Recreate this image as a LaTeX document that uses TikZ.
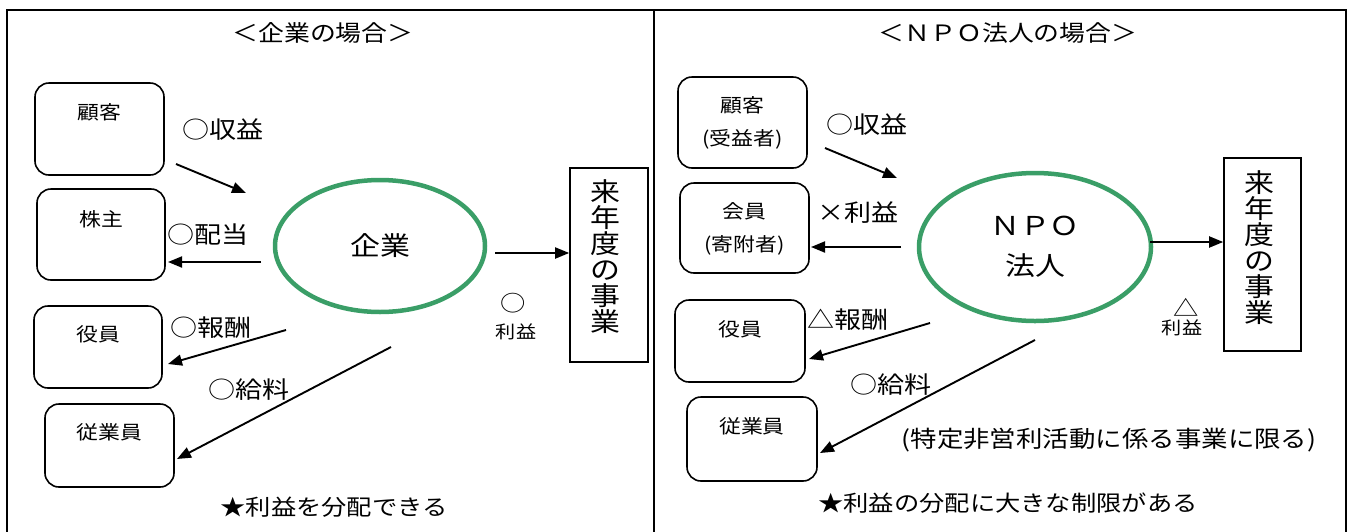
\documentclass[tikz,border=0pt]{standalone}
\usepackage{fontspec}
\newfontfamily\jp[FakeStretch=1.15]{Noto Sans CJK JP}
\usetikzlibrary{positioning,arrows.meta,shapes.geometric}
\definecolor{ovalgreen}{RGB}{58,158,103}

\begin{document}
\begin{tikzpicture}[x=1pt,y=-1pt,
	party/.style={draw, line width=1.6pt, rounded corners=14pt, inner sep=0pt},
	oval/.style={ellipse, draw=ovalgreen, line width=4.5pt, inner sep=0pt, font=\jp\fontsize{26}{40}\selectfont, align=center},
	nextyear/.style={draw, line width=1.6pt, inner sep=0pt},
	flow/.style={line width=1.9pt, -{Triangle[length=14pt,width=11pt]}},
	boxtext/.style={font=\jp\fontsize{19}{33}\selectfont, align=center, inner sep=0pt},
	vtext/.style={font=\jp\fontsize{26}{26}\selectfont, align=center, inner sep=0pt},
	tag/.style={font=\jp\fontsize{23.5}{28}\selectfont, inner sep=0pt},
	small/.style={font=\jp\fontsize{17.5}{20}\selectfont, inner sep=0pt},
	heading/.style={font=\jp\fontsize{22.5}{28}\selectfont, inner sep=0pt},
	note/.style={font=\jp\fontsize{22}{26}\selectfont, inner sep=0pt}]
	\useasboundingbox (0,0) rectangle (1350,531);
	\clip (0,0) rectangle (1350,531);
	
	% 外枠
	\draw[line width=1.6pt] (7,10) rectangle (1346,545);
	\draw[line width=1.6pt] (654,10) -- (654,545);
	
	% 左：企業の場合
	\node[heading] (titleL) at (323,33) {＜企業の場合＞};
	\node[party, minimum width=129pt, minimum height=92pt] (kokyakuL) at (99.5,129) {};
	\node[boxtext] at ([yshift=-30pt]kokyakuL.north) {顧客};
	\node[party, minimum width=128pt, minimum height=91pt] (kabunushi) at (101,234.5) {};
	\node[boxtext] at ([yshift=-31pt]kabunushi.north) {株主};
	\node[party, minimum width=128pt, minimum height=82pt] (yakuinL) at (98,347) {};
	\node[boxtext] at ([yshift=-29pt]yakuinL.north) {役員};
	\node[party, minimum width=129pt, minimum height=83pt] (jugyoinL) at (109.5,445.5) {};
	\node[boxtext] at ([yshift=-29pt]jugyoinL.north) {従業員};
	
	\node[oval, minimum width=210pt, minimum height=132pt] (kigyo) at (380,246) {企業};
	\node[nextyear, minimum width=78pt, minimum height=194pt] (raiL) at (609,265) {};
	\node[vtext] at ([xshift=-4pt,yshift=8pt]raiL.center) {来\\年\\度\\の\\事\\業};
	
	% 矢印の端点
	\coordinate (inL1) at (176,164);   \coordinate (inL2) at (246,193);
	\coordinate (divL1) at (261,262);  \coordinate (divL2) at (168,262);
	\coordinate (payL1) at (286,330);  \coordinate (payL2) at (168,364);
	\coordinate (wageL1) at (391,347); \coordinate (wageL2) at (177,459);
	\draw[flow] (inL1) -- (inL2);
	\draw[flow] (divL1) -- (divL2);
	\draw[flow] (payL1) -- (payL2);
	\draw[flow] (wageL1) -- (wageL2);
	\draw[flow] ([xshift=8pt,yshift=-7pt]kigyo.east) -- ([yshift=-7pt]kigyo.east -| raiL.west);
	
	\node[tag] at (223,130) {○収益};
	\node[tag] at (208,235) {○配当};
	\node[tag] at (211,328) {○報酬};
	\node[tag] at (249,390) {○給料};
	\node[small, font=\jp\fontsize{22}{22}\selectfont] at (513,303) {○};
	\node[small] at (516,332) {利益};
	\node[note] at (334,507) {★利益を分配できる};
	
	% 右：ＮＰＯ法人の場合
	\node[heading] (titleR) at (1008,33) {＜ＮＰＯ法人の場合＞};
	\node[party, minimum width=129pt, minimum height=91pt] (kokyakuR) at (742.5,122.5) {};
	\node[boxtext] at ([yshift=-47pt]kokyakuR.north) {顧客\\(受益者)};
	\node[party, minimum width=129pt, minimum height=90pt] (kaiin) at (744.5,228) {};
	\node[boxtext] at ([yshift=-47pt]kaiin.north) {会員\\(寄附者)};
	\node[party, minimum width=130pt, minimum height=82pt] (yakuinR) at (740,341) {};
	\node[boxtext] at ([yshift=-30pt]yakuinR.north) {役員};
	\node[party, minimum width=130pt, minimum height=84pt] (jugyoinR) at (752,439) {};
	\node[boxtext] at ([yshift=-30pt]jugyoinR.north) {従業員};
	
	\node[oval, minimum width=232pt, minimum height=148pt] (npo) at (1035,247) {ＮＰＯ\\法人};
	\node[nextyear, minimum width=77pt, minimum height=193pt] (raiR) at (1262.5,254.5) {};
	\node[vtext] at ([xshift=-3.5pt,yshift=6.5pt]raiR.center) {来\\年\\度\\の\\事\\業};
	
	\coordinate (inR1) at (825,148);    \coordinate (inR2) at (897,178);
	\coordinate (divR1) at (901,247);   \coordinate (divR2) at (811,247);
	\coordinate (payR1) at (930,323);   \coordinate (payR2) at (809,359);
	\coordinate (wageR1) at (1035,340); \coordinate (wageR2) at (820,453);
	\draw[flow] (inR1) -- (inR2);
	\draw[flow] (divR1) -- (divR2);
	\draw[flow] (payR1) -- (payR2);
	\draw[flow] (wageR1) -- (wageR2);
	\draw[flow] ([xshift=-3pt,yshift=5pt]npo.east) -- ([yshift=5pt]npo.east -| raiR.west);
	
	\node[tag] at (867,125) {○収益};
	\node[tag] at (858,213) {×利益};
	\node[tag] at (848,320) {△報酬};
	\node[tag] at (891,385) {○給料};
	\node[small, font=\jp\fontsize{22}{22}\selectfont] at (1186,307) {△};
	\node[small] at (1182,328) {利益};
	\node[note, font=\jp\fontsize{23}{26}\selectfont] at (1109,440) {(特定非営利活動に係る事業に限る)};
	\node[note] at (1008,503) {★利益の分配に大きな制限がある};
\end{tikzpicture}
\end{document}
